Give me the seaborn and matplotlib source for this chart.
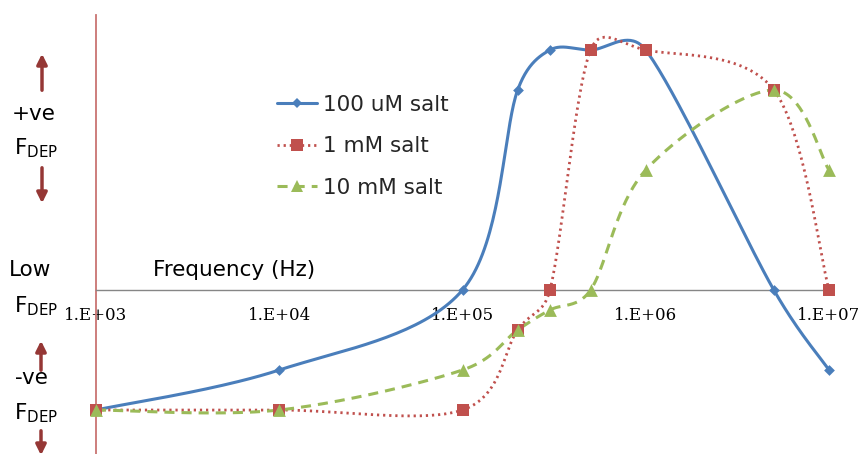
import numpy as np
import pandas as pd
import seaborn as sns
import matplotlib
matplotlib.use('Agg')
import matplotlib.pyplot as plt
from matplotlib.lines import Line2D
from matplotlib.ticker import NullLocator

# frequency points (Hz) and relative DEP force per salt concentration
freq = [1e3, 1e4, 1e5, 2e5, 3e5, 5e5, 1e6, 5e6, 1e7]
salt_100uM = [-3, -2, 0, 5, 6, 6, 6, 0, -2]
salt_1mM = [-3, -3, -3, -1, 0, 6, 6, 5, 0]
salt_10mM = [-3, -3, -2, -1, -0.5, 0, 3, 5, 3]
labels = ['100 uM salt', '1 mM salt', '10 mM salt']
tick_vals = [1e3, 1e4, 1e5, 1e6, 1e7]
tick_labels = ['1.E+03', '1.E+04', '1.E+05', '1.E+06', '1.E+07']

colors = ['#4a7ebb', '#c0504d', '#9bbb59']
styles = ['-', (0, (0.8, 1.4)), (0, (3.3, 2.3))]
widths = [2.2, 2.0, 2.2]
markers = ['D', 's', '^']
msizes = [30, 70, 85]

W, H = 861, 454
XLIM = (1e3, 1e7)
YLIM = (-4.1, 6.875)
AX_W = 829 - 96
AX_H = H - 15


def clamp(v, limit):
    ln = np.linalg.norm(v)
    return v if ln <= limit or ln == 0 else v * limit / ln


# excel-like smoothed line: catmull-rom bezier in screen space, handles limited
def smooth(xs, ys, n=40, k=1 / 6, lim=0.5):
    sx = AX_W / (np.log10(XLIM[1]) - np.log10(XLIM[0]))
    sy = AX_H / (YLIM[1] - YLIM[0])
    pts = np.column_stack([np.log10(xs) * sx, np.array(ys, float) * sy])
    m = len(pts)
    out = []
    t = np.linspace(0, 1, n)[:, None]
    for i in range(m - 1):
        p0 = pts[max(i - 1, 0)]
        p1 = pts[i]
        p2 = pts[i + 1]
        p3 = pts[min(i + 2, m - 1)]
        chord = np.linalg.norm(p2 - p1)
        c1 = p1 + clamp((p2 - p0) * k, chord * lim)
        c2 = p2 - clamp((p3 - p1) * k, chord * lim)
        seg = (1 - t)**3 * p1 + 3 * (1 - t)**2 * t * c1 + 3 * (1 - t) * t**2 * c2 + t**3 * p2
        out.append(seg if i == 0 else seg[1:])
    seg = np.vstack(out)
    return 10 ** (seg[:, 0] / sx), seg[:, 1] / sy


sns.set_style('white')
plt.rcParams['font.family'] = ['DejaVu Sans']

fig = plt.figure(figsize=(W / 100, H / 100), dpi=100)
ax = fig.add_axes([96 / W, 0, AX_W / W, AX_H / H])

series = [salt_100uM, salt_1mM, salt_10mM]
for ys, lab, c, ls, lw in zip(series, labels, colors, styles, widths):
    sx, sy = smooth(freq, ys)
    df = pd.DataFrame({'freq': sx, 'force': sy})
    sns.lineplot(data=df, x='freq', y='force', color=c, linewidth=lw, linestyle=ls,
                 sort=False, estimator=None, ax=ax, clip_on=False)
for ys, c, m, s in zip(series, colors, markers, msizes):
    df = pd.DataFrame({'freq': freq, 'force': ys})
    sns.scatterplot(data=df, x='freq', y='force', color=c, marker=m, s=s,
                    linewidth=0, ax=ax, clip_on=False, zorder=3)

ax.set_xscale('log')
ax.set_xlim(*XLIM)
ax.set_ylim(*YLIM)
ax.set_xticks(tick_vals)
ax.set_xticklabels(tick_labels)
ax.xaxis.set_minor_locator(NullLocator())
ax.set_yticks([])
ax.set_xlabel('')
ax.set_ylabel('')
ax.tick_params(axis='x', direction='inout', length=5, width=0.8, color='#868686', pad=10,
               labelsize=12, labelfontfamily='DejaVu Serif', labelcolor='black')

ax.spines['top'].set_visible(False)
ax.spines['right'].set_visible(False)
ax.spines['bottom'].set_position(('data', 0))
ax.spines['bottom'].set_color('#868686')
ax.spines['bottom'].set_linewidth(1.0)
ax.spines['left'].set_color('#c97472')
ax.spines['left'].set_linewidth(1.3)

handles = [Line2D([], [], color=c, lw=lw, ls=ls, marker=m, markersize=ms, markeredgewidth=0)
           for c, lw, ls, m, ms in zip(colors, widths, styles, markers, [5, 8, 8.5])]
fig.legend(handles, labels, loc='upper left', bbox_to_anchor=(277 / W, 1 - 95 / H),
           frameon=False, fontsize=15.5, handlelength=1.86, handletextpad=0.28,
           labelspacing=0.99, borderpad=0, borderaxespad=0)


def px(x, y):
    return x / W, 1 - y / H


txt = dict(fontsize=15.5, color='black', va='center')
fig.text(*px(153, 270), 'Frequency (Hz)', ha='left', **txt)
fig.text(*px(34, 114), '+ve', ha='center', **txt)
fig.text(*px(9, 270), 'Low', ha='left', **txt)
fig.text(*px(31, 378), '-ve', ha='center', **txt)
for yy in [148, 306, 413]:
    fig.text(*px(36, yy), r'F$_{\mathrm{DEP}}$', ha='center', **txt)

arrow_c = '#953735'
for x0, y_tail, y_tip in [(42, 93, 51), (42, 165, 206), (41, 373, 338), (41, 428, 458)]:
    ax.annotate('', xy=px(x0, y_tip), xytext=px(x0, y_tail), xycoords='figure fraction',
                textcoords='figure fraction',
                arrowprops=dict(arrowstyle='-|>,head_length=0.6,head_width=0.3', color=arrow_c, lw=2.5))

fig.savefig('out.png', dpi=100)
